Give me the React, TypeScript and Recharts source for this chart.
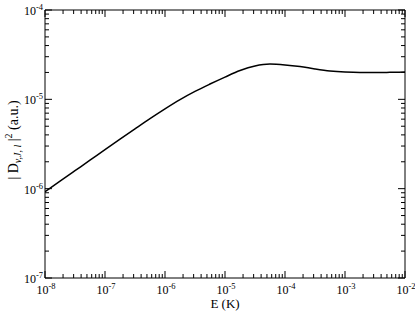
import { LineChart, Line, XAxis, YAxis } from "recharts";

// energy (K), quarter-decade steps
const energy = [
  1e-8, 1.78e-8, 3.16e-8, 5.62e-8,
  1e-7, 1.78e-7, 3.16e-7, 5.62e-7,
  1e-6, 1.78e-6, 3.16e-6, 5.62e-6,
  1e-5, 1.78e-5, 3.16e-5, 5.62e-5,
  1e-4, 1.78e-4, 3.16e-4, 5.62e-4,
  1e-3, 1.78e-3, 3.16e-3, 5.62e-3,
  1e-2,
];

// |D|^2 (a.u.)
const dipole = [
  9.24e-7, 1.213e-6, 1.589e-6, 2.083e-6,
  2.734e-6, 3.58e-6, 4.67e-6, 6.08e-6,
  7.83e-6, 9.93e-6, 1.227e-5, 1.483e-5,
  1.775e-5, 2.1e-5, 2.36e-5, 2.48e-5,
  2.43e-5, 2.33e-5, 2.19e-5, 2.08e-5,
  2.02e-5, 1.995e-5, 1.995e-5, 2.005e-5,
  2.02e-5,
];

const xDecades = [-8, -7, -6, -5, -4, -3, -2];
const yDecades = [-7, -6, -5, -4];

const data = energy.map((e, i) => ({ e, d: dipole[i] }));

const FONT = "Liberation Serif";

function logTicks(decades: number[]) {
  const out: number[] = [];
  decades.forEach((p, i) => {
    out.push(Math.pow(10, p));
    if (i < decades.length - 1) {
      for (let m = 2; m <= 9; m++) out.push(m * Math.pow(10, p));
    }
  });
  return out;
}

const xTicks = logTicks(xDecades);
const yTicks = logTicks(yDecades);

const isMajor = (v: number) => Math.abs(Math.log10(v) - Math.round(Math.log10(v))) < 1e-6;
const expOf = (v: number) => Math.round(Math.log10(v));

function Pow10({ x, y, anchor, v }: any) {
  return (
    <text x={x} y={y} textAnchor={anchor} fontFamily={FONT} fontSize={12} fill="#000">
      10<tspan fontSize={8.5} dy={-5}>{expOf(v)}</tspan>
    </text>
  );
}

function BottomTick({ x, y, payload }: any) {
  const major = isMajor(payload.value);
  return (
    <g>
      <line x1={x} y1={y} x2={x} y2={y - (major ? 7 : 4)} stroke="#000" />
      {major && <Pow10 x={x + 1} y={y + 16} anchor="middle" v={payload.value} />}
    </g>
  );
}

function TopTick({ x, y, payload }: any) {
  const major = isMajor(payload.value);
  return <line x1={x} y1={y} x2={x} y2={y + (major ? 7 : 4)} stroke="#000" />;
}

function LeftTick({ x, y, payload }: any) {
  const major = isMajor(payload.value);
  return (
    <g>
      <line x1={x} y1={y} x2={x + (major ? 7 : 4)} y2={y} stroke="#000" />
      {major && <Pow10 x={x - 2} y={y + 5} anchor="end" v={payload.value} />}
    </g>
  );
}

function RightTick({ x, y, payload }: any) {
  const major = isMajor(payload.value);
  return <line x1={x} y1={y} x2={x - (major ? 7 : 4)} y2={y} stroke="#000" />;
}

function XTitle({ viewBox }: any) {
  const cx = viewBox.x + viewBox.width / 2;
  return (
    <text x={cx} y={viewBox.y + 30} textAnchor="middle" fontFamily={FONT} fontSize={13} fill="#000">
      E (K)
    </text>
  );
}

function YTitle({ viewBox }: any) {
  const cy = viewBox.y + viewBox.height / 2 - 4;
  const cx = 18;
  return (
    <text
      x={cx}
      y={cy}
      transform={`rotate(-90 ${cx} ${cy})`}
      textAnchor="middle"
      fontFamily={FONT}
      fontSize={14}
      fill="#000"
    >
      | D
      <tspan fontSize={10} fontStyle="italic" dy={3}>v,J, l</tspan>
      <tspan dy={-3}> |</tspan>
      <tspan fontSize={10} dy={-6}>2</tspan>
      <tspan dy={6}>  (a.u.)</tspan>
    </text>
  );
}

export default function App() {
  return (
    <div style={{ position: "absolute", left: 0, top: 0, width: 415, height: 312, background: "#fff" }}>
      <LineChart width={415} height={312} data={data} margin={{ top: 0, right: 0, bottom: 0, left: 0 }}>
        <XAxis
          dataKey="e"
          type="number"
          scale="log"
          domain={[1e-8, 1e-2]}
          allowDataOverflow
          ticks={xTicks}
          interval={0}
          tickSize={0}
          tickMargin={0}
          tick={<BottomTick />}
          height={34}
          axisLine={{ stroke: "#000" }}
          label={<XTitle />}
        />
        <XAxis
          xAxisId="top"
          orientation="top"
          dataKey="e"
          type="number"
          scale="log"
          domain={[1e-8, 1e-2]}
          allowDataOverflow
          ticks={xTicks}
          interval={0}
          tickSize={0}
          tickMargin={0}
          tick={<TopTick />}
          height={10}
          axisLine={{ stroke: "#000" }}
        />
        <YAxis
          type="number"
          scale="log"
          domain={[1e-7, 1e-4]}
          allowDataOverflow
          ticks={yTicks}
          interval={0}
          tickSize={0}
          tickMargin={0}
          tick={<LeftTick />}
          width={45}
          axisLine={{ stroke: "#000" }}
          label={<YTitle />}
        />
        <YAxis
          yAxisId="right"
          orientation="right"
          type="number"
          scale="log"
          domain={[1e-7, 1e-4]}
          allowDataOverflow
          ticks={yTicks}
          interval={0}
          tickSize={0}
          tickMargin={0}
          tick={<RightTick />}
          width={10}
          axisLine={{ stroke: "#000" }}
        />
        <Line
          dataKey="d"
          type="monotone"
          stroke="#000"
          strokeWidth={1.5}
          dot={false}
          isAnimationActive={false}
        />
      </LineChart>
    </div>
  );
}
